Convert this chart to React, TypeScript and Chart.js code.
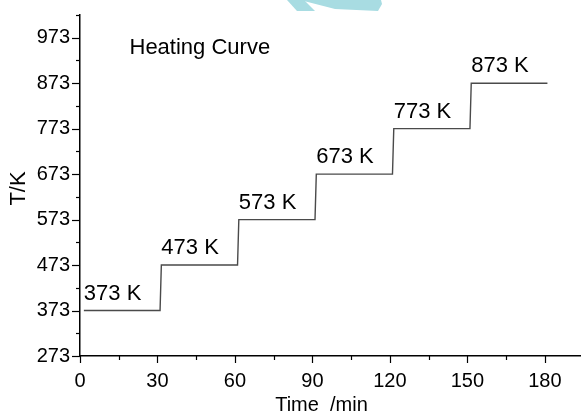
import React, { useEffect, useRef } from 'react';
import { Chart, registerables } from 'chart.js';

Chart.register(...registerables);

// Heating programme: time (min) and furnace temperature (K)
const TIME_MIN = [1.5, 31, 31.5, 61, 61.5, 91, 91.5, 121, 121.5, 151, 151.5, 181];
const TEMP_K = [373, 373, 473, 473, 573, 573, 673, 673, 773, 773, 873, 873];

const X_TICKS = [0, 30, 60, 90, 120, 150, 180];
const Y_TICKS = [273, 373, 473, 573, 673, 773, 873, 973];
const X_RANGE = [0, 194];
const Y_RANGE = [273, 1023];

const HEADING = 'Heating Curve';
const X_TITLE = 'Time  /min';
const Y_TITLE = 'T/K';

const FONT = '"Liberation Sans", Arial, Helvetica, sans-serif';
const W = 581;
const H = 412;

const decorations = {
  id: 'decorations',
  beforeDraw(chart: any) {
    const { ctx } = chart;
    ctx.save();
    ctx.fillStyle = '#a8dce2';
    ctx.beginPath();
    ctx.moveTo(287, 0);
    ctx.lineTo(304, 0);
    ctx.lineTo(315, 11);
    ctx.lineTo(297, 11);
    ctx.closePath();
    ctx.fill();
    ctx.beginPath();
    ctx.moveTo(300, 0);
    ctx.lineTo(381, 0);
    ctx.lineTo(382, 4);
    ctx.lineTo(378, 11);
    ctx.lineTo(335, 9);
    ctx.closePath();
    ctx.fill();
    ctx.restore();
  },
  afterDraw(chart: any) {
    const { ctx, chartArea } = chart;
    const x = chart.scales.x;
    const y = chart.scales.y;
    ctx.save();

    // tick marks: major at labelled values, minor half-way between
    ctx.strokeStyle = '#000';
    ctx.lineWidth = 1.2;
    const xStep = X_TICKS[1] - X_TICKS[0];
    const yStep = Y_TICKS[1] - Y_TICKS[0];
    const xTick = (v: number, len: number) => {
      const px = Math.round(x.getPixelForValue(v)) + 0.5;
      ctx.beginPath();
      ctx.moveTo(px, chartArea.bottom);
      ctx.lineTo(px, chartArea.bottom + len);
      ctx.stroke();
    };
    const yTick = (v: number, len: number) => {
      const py = Math.round(y.getPixelForValue(v)) + 0.5;
      ctx.beginPath();
      ctx.moveTo(chartArea.left, py);
      ctx.lineTo(chartArea.left - len, py);
      ctx.stroke();
    };
    X_TICKS.forEach((v) => {
      xTick(v, 7);
      if (v + xStep / 2 <= X_RANGE[1]) xTick(v + xStep / 2, 4);
    });
    Y_TICKS.forEach((v) => {
      yTick(v, 8);
      if (v + yStep / 2 <= Y_RANGE[1]) yTick(v + yStep / 2, 4);
    });

    ctx.fillStyle = '#000';
    ctx.textBaseline = 'alphabetic';

    // temperature of each plateau, written above its start
    ctx.font = `22px ${FONT}`;
    ctx.textAlign = 'left';
    for (let i = 0; i < TIME_MIN.length; i += 2) {
      ctx.fillText(
        `${TEMP_K[i]} K`,
        x.getPixelForValue(TIME_MIN[i]),
        y.getPixelForValue(TEMP_K[i]) - 11
      );
    }

    // heading inside the plot
    ctx.fillText(HEADING, chartArea.left + 49.5, chartArea.top + 39);

    // axis titles
    ctx.font = `20px ${FONT}`;
    ctx.textAlign = 'center';
    ctx.fillText(X_TITLE, (chartArea.left + chartArea.right) / 2 - 9, H - 1);

    ctx.save();
    ctx.translate(24.5, (chartArea.top + chartArea.bottom) / 2 + 3);
    ctx.rotate(-Math.PI / 2);
    ctx.font = `22px ${FONT}`;
    ctx.fillText(Y_TITLE, 0, 0);
    ctx.restore();

    ctx.restore();
  },
};

export default function App() {
  const canvasRef = useRef<HTMLCanvasElement | null>(null);

  useEffect(() => {
    const canvas = canvasRef.current;
    if (!canvas) return;
    const chart = new Chart(canvas, {
      type: 'line',
      data: {
        datasets: [
          {
            data: TIME_MIN.map((t, i) => ({ x: t, y: TEMP_K[i] })),
            borderColor: '#4a4a4a',
            borderWidth: 1.4,
            pointRadius: 0,
            tension: 0,
            fill: false,
          },
        ],
      },
      options: {
        responsive: false,
        animation: false,
        devicePixelRatio: 1,
        layout: { padding: { top: 15, right: 0, left: 0, bottom: 0 } },
        plugins: {
          legend: { display: false },
          tooltip: { enabled: false },
        },
        scales: {
          x: {
            type: 'linear',
            min: X_RANGE[0],
            max: X_RANGE[1],
            afterBuildTicks: (s: any) => {
              s.ticks = X_TICKS.map((v) => ({ value: v }));
            },
            afterFit: (s: any) => {
              s.height = 56;
            },
            ticks: {
              autoSkip: false,
              maxRotation: 0,
              padding: 6,
              color: '#000',
              font: { family: FONT, size: 20 },
            },
            grid: {
              display: true,
              drawOnChartArea: false,
              drawTicks: true,
              tickLength: 7,
              color: 'rgba(0,0,0,0)',
            },
            border: { display: true, color: '#000', width: 1.5 },
          },
          y: {
            type: 'linear',
            min: Y_RANGE[0],
            max: Y_RANGE[1],
            afterBuildTicks: (s: any) => {
              s.ticks = Y_TICKS.map((v) => ({ value: v }));
            },
            afterFit: (s: any) => {
              s.width = 80;
            },
            ticks: {
              autoSkip: false,
              padding: 2,
              color: '#000',
              font: { family: FONT, size: 20 },
            },
            grid: {
              display: true,
              drawOnChartArea: false,
              drawTicks: true,
              tickLength: 8,
              color: 'rgba(0,0,0,0)',
            },
            border: { display: true, color: '#000', width: 1.5 },
          },
        },
      },
      plugins: [decorations],
    } as any);
    return () => chart.destroy();
  }, []);

  return (
    <div style={{ position: 'absolute', left: 0, top: 0, width: W, height: H, background: '#fff' }}>
      <canvas ref={canvasRef} width={W} height={H} />
    </div>
  );
}
